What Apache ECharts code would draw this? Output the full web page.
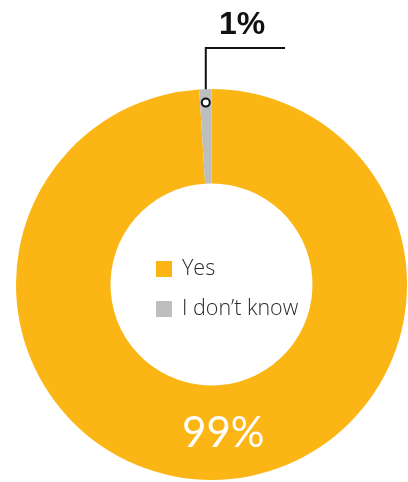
<!DOCTYPE html>
<html>
<head>
<meta charset="utf-8">
<script src="https://cdn.jsdelivr.net/npm/echarts@6/dist/echarts.min.js"></script>
<style>
html,body{margin:0;padding:0;background:#fff;}
#c{width:408px;height:482px;}
</style>
</head>
<body>
<div id="c"></div>
<script>
var categories = ['Yes', 'I don\u2019t know'];
var values = [99, 1];
var labels = ['99%', '1%'];
var colors = ['#FBB616', '#BDBEC0'];

var center = [211.5, 284.5];
var radius = [101, 195.5];

var chart = echarts.init(document.getElementById('c'));

var total = values.reduce(function (a, b) { return a + b; }, 0);
var startDeg = 90 - 360 * values[0] / total;
var midDeg = startDeg - 360 * values[1] / total / 2 + 360;
var rad = midDeg * Math.PI / 180;
var markR = 182;
var mx = center[0] + markR * Math.cos(rad);
var my = center[1] - markR * Math.sin(rad);
var elbowY = 48;
var endX = 285;

chart.setOption({
  animation: false,
  legend: {
    orient: 'vertical',
    left: 156,
    top: 258,
    padding: 0,
    icon: 'rect',
    itemWidth: 16,
    itemHeight: 16,
    itemGap: 18,
    textStyle: { fontFamily: 'Open Sans', fontWeight: 300, fontSize: 21.5, lineHeight: 16, color: '#2a2a2a', padding: [0, 0, 0, 5] },
    data: categories
  },
  graphic: [{
    type: 'circle',
    shape: { cx: mx, cy: my, r: 4 },
    style: { fill: '#fff', stroke: '#111', lineWidth: 2 },
    z: 100
  }],
  series: [{
    type: 'pie',
    center: center,
    radius: radius,
    startAngle: 90,
    clockwise: true,
    avoidLabelOverlap: false,
    data: categories.map(function (c, i) {
      return {
        name: c,
        value: values[i],
        itemStyle: { color: colors[i] },
        label: i === 0 ? {
          show: true,
          position: 'inside',
          formatter: labels[i],
          color: '#fff',
          fontFamily: 'Lato',
          fontWeight: 400,
          fontSize: 42
        } : {
          show: true,
          position: 'outside',
          formatter: labels[i],
          color: '#111',
          fontFamily: 'Liberation Sans',
          fontWeight: 'bold',
          fontSize: 32
        },
        labelLine: i === 0 ? { show: false } : {
          show: true,
          smooth: false,
          lineStyle: { color: '#111', width: 2 }
        }
      };
    }),
    labelLayout: function (p) {
      if (p.dataIndex === 1) {
        return {
          x: 242, y: 25, align: 'center', verticalAlign: 'middle',
          labelLinePoints: [[mx, my], [mx, elbowY], [endX, elbowY]]
        };
      }
      return { dx: 7, dy: -2 };
    }
  }]
});
</script>
</body>
</html>
